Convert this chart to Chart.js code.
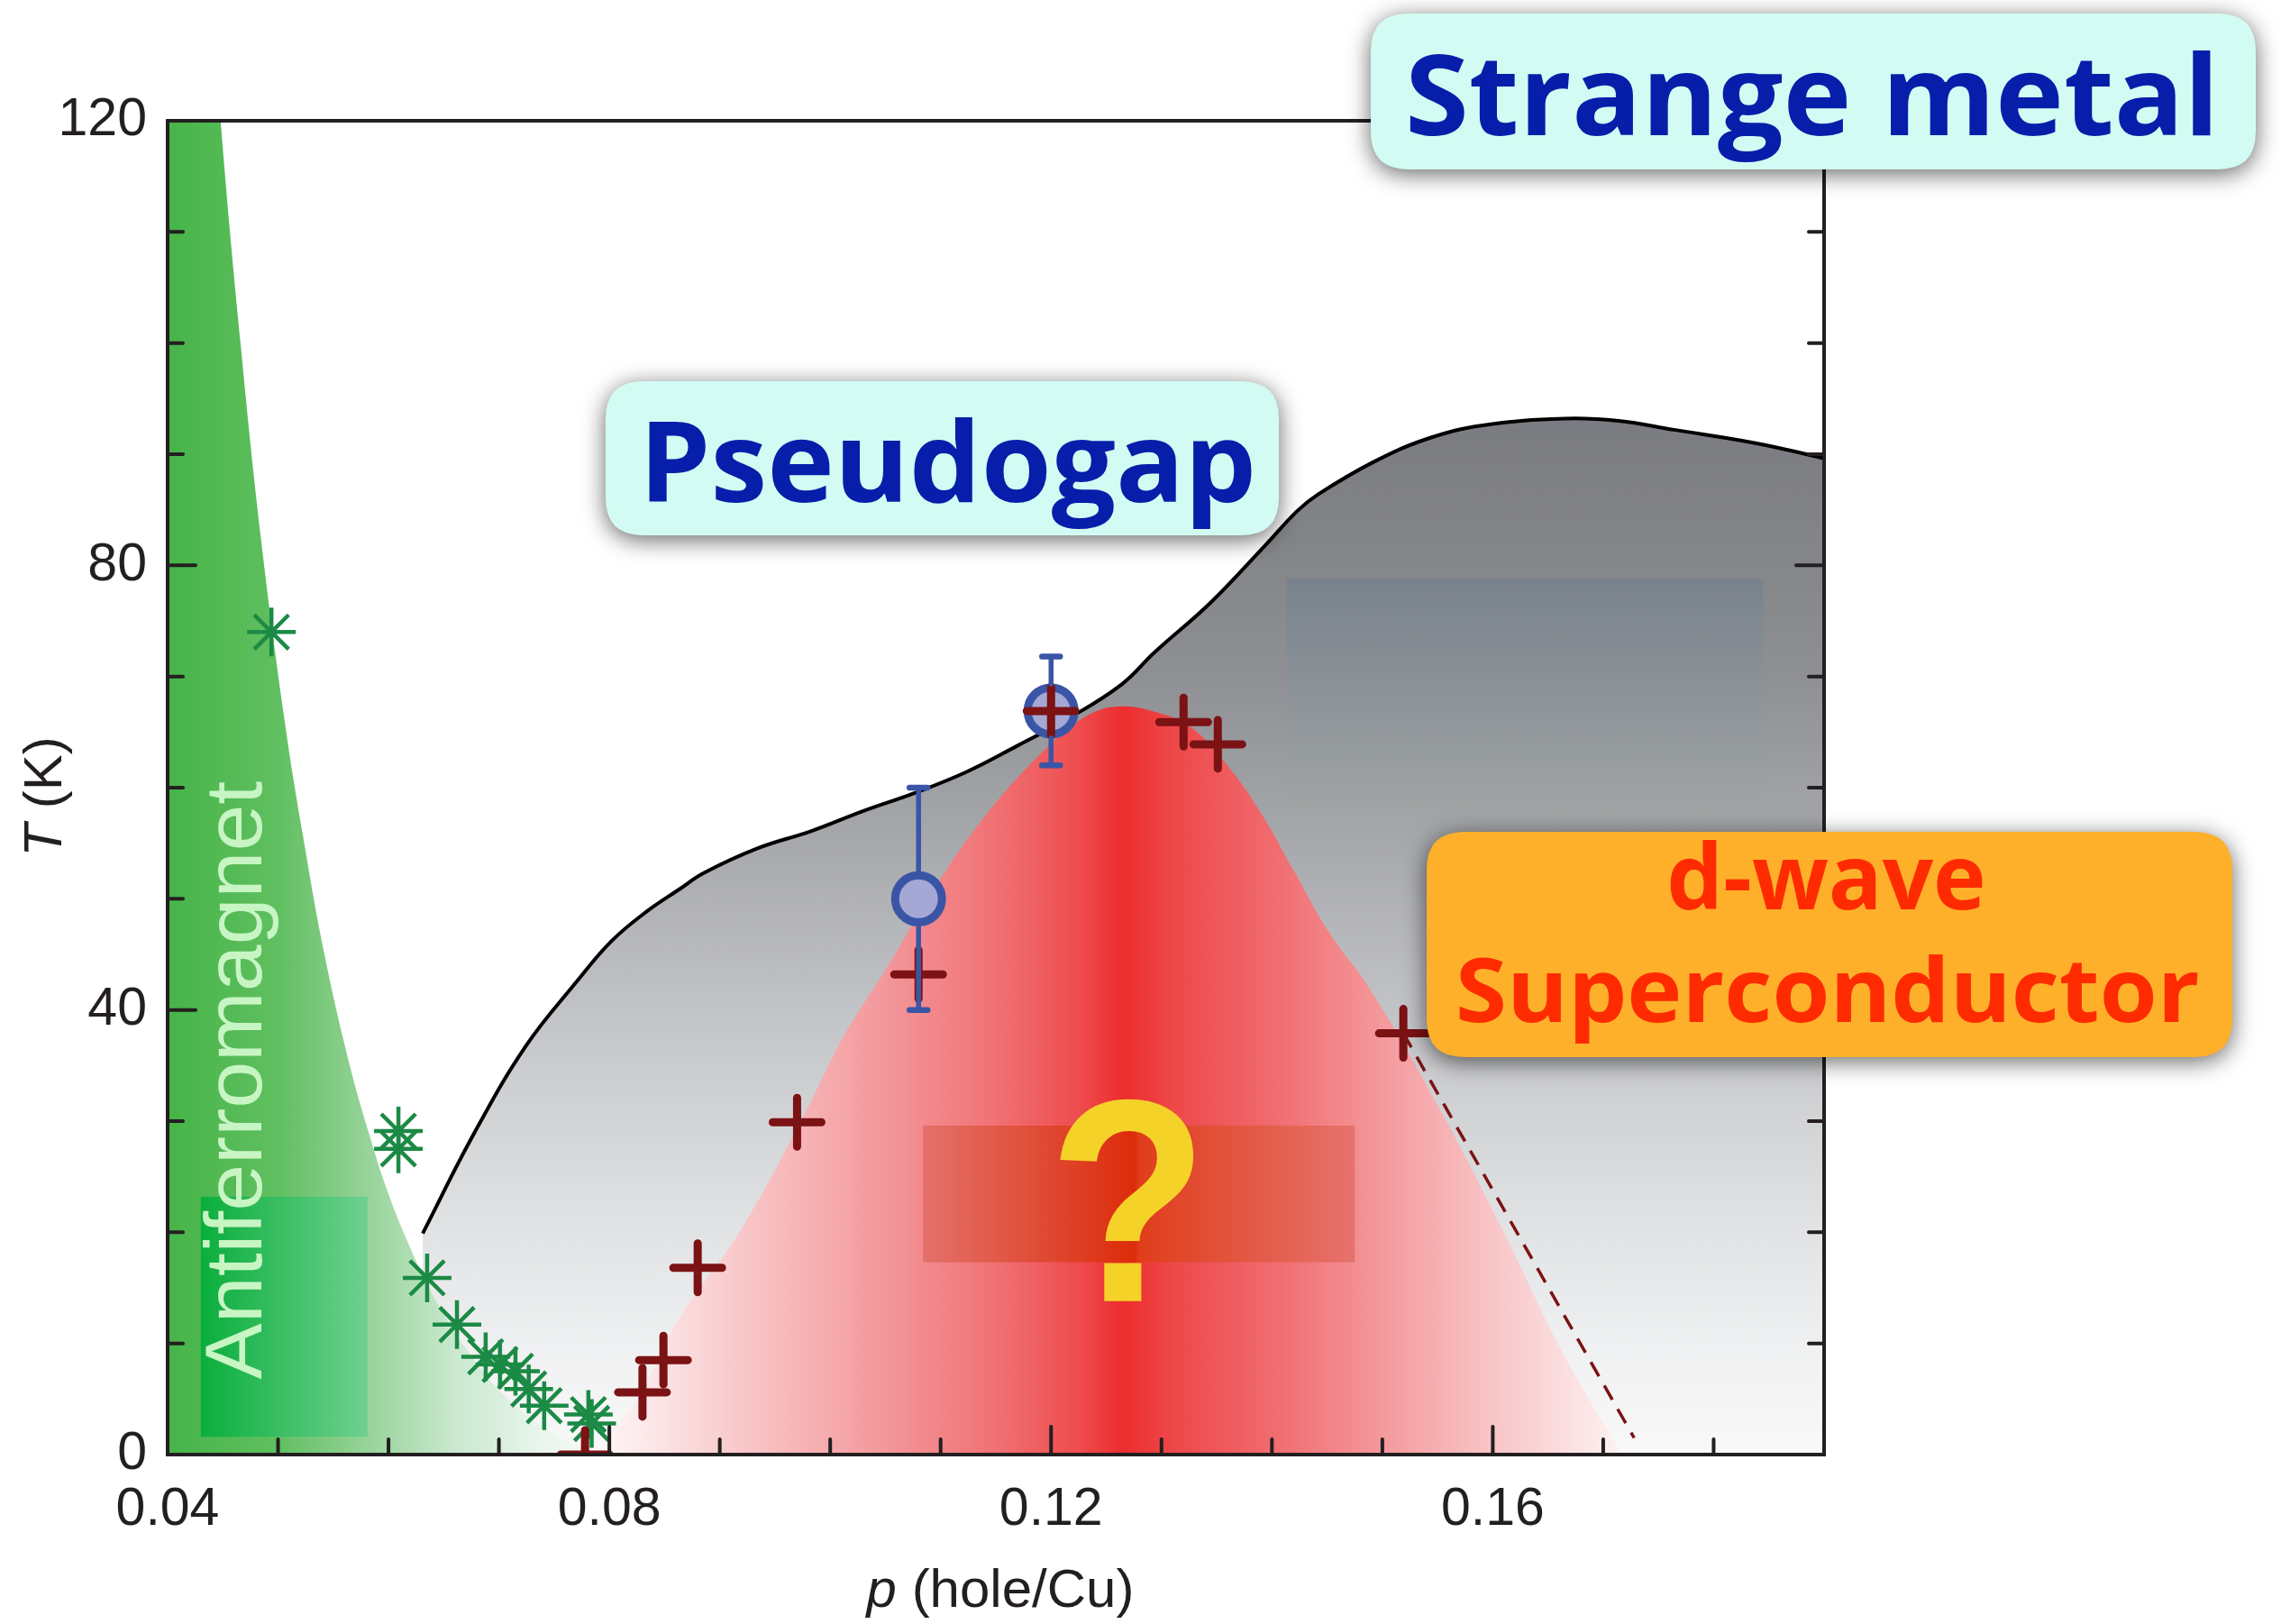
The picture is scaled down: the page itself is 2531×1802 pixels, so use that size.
<!DOCTYPE html>
<html>
<head>
<meta charset="utf-8">
<title>Cuprate phase diagram</title>
<script src="https://cdn.jsdelivr.net/npm/chart.js@4.4.1/dist/chart.umd.min.js"></script>
<style>
html,body{margin:0;padding:0;background:#ffffff;overflow:hidden;}
#chart{display:block;}
</style>
</head>
<body>
<canvas id="chart" width="2531" height="1802"></canvas>
<script>
// ================= DATA =================
const xTickValues = [0.04, 0.08, 0.12, 0.16];
const xTickLabels = ['0.04', '0.08', '0.12', '0.16'];
const yTickValues = [0, 40, 80, 120];
const yTickLabels = ['0', '40', '80', '120'];
const xAxisTitle = ['p', ' (hole/Cu)'];
const yAxisTitle = ['T', ' (K)'];

// Neel temperature (green asterisks)
const neelP = [0.0494, 0.0609, 0.0609, 0.0635, 0.0662, 0.0688, 0.0701, 0.0715, 0.0727, 0.0741, 0.0781, 0.0784];
const neelT = [74.0, 29.1, 27.5, 15.9, 11.7, 8.8, 8.1, 7.5, 5.9, 4.4, 3.6, 2.8];

// Superconducting Tc (dark red crosses)
const tcP = [0.0778, 0.0830, 0.0849, 0.0880, 0.0970, 0.1080, 0.1200, 0.1320, 0.1351, 0.1519];
const tcT = [0.0, 5.6, 8.5, 16.8, 29.9, 43.2, 66.9, 65.9, 63.9, 37.9];

// Pseudogap temperature points (blue circles) and their error
const pgP = [0.1080, 0.1200];
const pgT = [50.0, 66.9];
const pgErr = [10.0, 4.9];

// Pseudogap boundary curve (black line, gray region below)
const pseudoP = [0.0631, 0.0677, 0.0724, 0.0770, 0.0802, 0.0833, 0.0864, 0.0885, 0.0933, 0.0983, 0.1030, 0.1076, 0.1123, 0.1170, 0.1217, 0.1264, 0.1294, 0.1344, 0.1393, 0.1423, 0.1442, 0.1492, 0.1541, 0.1591, 0.1665, 0.1714, 0.1764, 0.1838, 0.1897, 0.1905];
const pseudoT = [19.9, 28.8, 36.7, 42.5, 46.2, 48.8, 50.9, 52.3, 54.5, 56.1, 57.9, 59.5, 61.4, 63.8, 66.3, 69.3, 72.2, 76.6, 81.7, 84.9, 86.4, 89.3, 91.4, 92.6, 93.2, 93.0, 92.2, 91.0, 89.7, 89.5];

// Antiferromagnet boundary (green region to its left)
const afmP = [0.0397, 0.0426, 0.0448, 0.0466, 0.0485, 0.0506, 0.0522, 0.0542, 0.0565, 0.0582, 0.0598, 0.0618, 0.0642, 0.0674, 0.0708, 0.0748, 0.0790];
const afmT = [200, 150, 120, 100, 82, 66, 56, 45, 35, 29, 24, 19, 14, 9, 5, 2, 0];

// Superconducting dome (red region)
const domeP = [0.0775, 0.0819, 0.0862, 0.0919, 0.0978, 0.1012, 0.1055, 0.1087, 0.1139, 0.1198, 0.1233, 0.1261, 0.1295, 0.1326, 0.1358, 0.1389, 0.1420, 0.1451, 0.1490, 0.1553, 0.1609, 0.1662, 0.1717];
const domeT = [0, 4.0, 12.1, 20.2, 30.9, 37.6, 44.4, 49.8, 57.3, 63.8, 66.5, 67.3, 66.8, 65.5, 62.2, 57.9, 52.5, 47.1, 41.7, 30.9, 20.2, 9.4, 0];

// Extrapolated Tc (dashed line)
const dashP = [0.1519, 0.1728];
const dashT = [37.9, 1.5];

// Region labels
const labelStrange = 'Strange metal';
const labelPseudogap = 'Pseudogap';
const labelDwave = 'd-wave';
const labelSC = 'Superconductor';
const labelAFM = 'Antiferromagnet';
const labelUnknown = '?';

// ================= Layout / decoration (in data units) =================
const deco = {
  darkRect:  {p0: 0.1413, p1: 0.1845, t0: 78.8, t1: 57.2},
  greenRect: {p0: 0.0430, p1: 0.0581, t0: 23.2, t1: 1.6},
  redRect:   {p0: 0.1084, p1: 0.1475, t0: 29.6, t1: 17.3},
  qmark:     {p0: 0.12048, p1: 0.13310, tTop: 32.1, tBase: 13.8},
  afmText:   {pCap: 0.04312, pBase: 0.04846, tStart: 6.78, tEnd: 60.58},
  boxStrange:{p0: 0.14895, p1: 0.22909, t0: 129.65, t1: 115.62,
              text: {p0: 0.15246, p1: 0.22501, tTop: 126.32, tBase: 118.70}},
  boxPseudo: {p0: 0.07966, p1: 0.14063, t0: 96.57, t1: 82.70,
              text: {p0: 0.08358, p1: 0.13818, tTop: 93.24, tBase: 85.70}},
  boxSC:     {p0: 0.15401, p1: 0.22697, t0: 56.03, t1: 35.76,
              text1: {p0: 0.17605, p1: 0.20436, tTop: 55.22, tBase: 49.05},
              text2: {p0: 0.15695, p1: 0.22387, tTop: 45.00, tBase: 38.92}}
};

const toXY = (P, T) => P.map((p, i) => ({x: p, y: T[i]}));

// ================= helpers =================
function gradX(chart, stops) {
  const xs = chart.scales.x, ctx = chart.ctx;
  const x0 = xs.getPixelForValue(stops[0][0]);
  const x1 = xs.getPixelForValue(stops[stops.length - 1][0]);
  const g = ctx.createLinearGradient(x0, 0, x1, 0);
  stops.forEach(([p, c]) => g.addColorStop(Math.min(1, Math.max(0, (xs.getPixelForValue(p) - x0) / (x1 - x0))), c));
  return g;
}
function gradY(chart, stops) {
  const ys = chart.scales.y, ctx = chart.ctx;
  const y0 = ys.getPixelForValue(stops[0][0]);
  const y1 = ys.getPixelForValue(stops[stops.length - 1][0]);
  const g = ctx.createLinearGradient(0, y0, 0, y1);
  stops.forEach(([t, c]) => g.addColorStop(Math.min(1, Math.max(0, (ys.getPixelForValue(t) - y0) / (y1 - y0))), c));
  return g;
}
function rrPath(ctx, x, y, w, h, r) {
  ctx.beginPath();
  ctx.moveTo(x + r, y);
  ctx.lineTo(x + w - r, y);
  ctx.quadraticCurveTo(x + w, y, x + w, y + r);
  ctx.lineTo(x + w, y + h - r);
  ctx.quadraticCurveTo(x + w, y + h, x + w - r, y + h);
  ctx.lineTo(x + r, y + h);
  ctx.quadraticCurveTo(x, y + h, x, y + h - r);
  ctx.lineTo(x, y + r);
  ctx.quadraticCurveTo(x, y, x + r, y);
  ctx.closePath();
}
function fitText(ctx, text, font, x0, x1, yTop, yBase, color) {
  ctx.save();
  ctx.font = font; ctx.textAlign = 'left'; ctx.textBaseline = 'alphabetic';
  const m = ctx.measureText(text);
  const w = m.actualBoundingBoxLeft + m.actualBoundingBoxRight;
  const h = m.actualBoundingBoxAscent;
  ctx.translate(x0, yBase);
  ctx.scale((x1 - x0) / w, (yBase - yTop) / h);
  ctx.fillStyle = color;
  ctx.fillText(text, m.actualBoundingBoxLeft, 0);
  ctx.restore();
}

const grayStops = [[93, '#7b7c81'], [80, '#84868a'], [70, '#8e9094'], [57, '#a3a5a9'], [44, '#bbbcc0'], [36, '#c9cacd'], [31, '#d1d2d4'], [20, '#e2e3e5'], [9, '#f0f1f2'], [0, '#f9f9f9']];
const greenStops = [[0.040, 'rgb(70,180,72)'], [0.050, 'rgb(96,191,96)'], [0.058, 'rgb(150,211,152)'], [0.066, 'rgb(202,232,207)'], [0.074, 'rgb(234,245,237)'], [0.080, 'rgb(250,252,250)']];
const domeStops = [[0.0765, '#ffffff'], [0.085, '#fbe2e3'], [0.095, '#f7bcbe'], [0.105, '#f3979b'], [0.115, '#f07173'], [0.1225, '#ee4c4e'], [0.1265, '#ec2d2d'], [0.131, '#ee4749'], [0.140, '#f06b6e'], [0.150, '#f4999c'], [0.160, '#f8c5c7'], [0.1725, '#fef5f5']];

// ================= plugin for decorations, frame and labels =================
const decorPlugin = {
  id: 'decor',
  beforeDatasetDraw(chart, args) {
    const ds = chart.data.datasets[args.index];
    if (ds.roundCap) { chart.ctx.save(); chart.ctx.lineCap = 'round'; }
  },
  afterDatasetDraw(chart, args) {
    const ds = chart.data.datasets[args.index];
    const ctx = chart.ctx;
    if (ds.roundCap) ctx.restore();
    const X = v => chart.scales.x.getPixelForValue(v);
    const Y = v => chart.scales.y.getPixelForValue(v);
    if (ds.key === 'pgFill') {
      const r = deco.darkRect;
      ctx.save();
      const g = ctx.createLinearGradient(0, Y(r.t0), 0, Y(r.t1));
      g.addColorStop(0, '#79828c'); g.addColorStop(1, '#a1a5a5');
      ctx.fillStyle = g;
      ctx.fillRect(X(r.p0), Y(r.t0), X(r.p1) - X(r.p0), Y(r.t1) - Y(r.t0));
      ctx.restore();
    }
    if (ds.key === 'afmFill') {
      const r = deco.greenRect;
      ctx.save();
      const g = ctx.createLinearGradient(X(r.p0), 0, X(r.p1), 0);
      g.addColorStop(0, '#0aae3c'); g.addColorStop(1, '#6fd08f');
      ctx.fillStyle = g;
      ctx.fillRect(X(r.p0), Y(r.t0), X(r.p1) - X(r.p0), Y(r.t1) - Y(r.t0));
      ctx.restore();
    }
    if (ds.key === 'dome') {
      const r = deco.redRect;
      ctx.save();
      const g = ctx.createLinearGradient(X(r.p0), 0, X(r.p1), 0);
      g.addColorStop(0, '#e4716a'); g.addColorStop(0.49, '#dc2c0a'); g.addColorStop(0.5, '#e03d1a'); g.addColorStop(1, '#e6736d');
      ctx.fillStyle = g;
      ctx.fillRect(X(r.p0), Y(r.t0), X(r.p1) - X(r.p0), Y(r.t1) - Y(r.t0));
      ctx.restore();
      const q = deco.qmark;
      fitText(ctx, labelUnknown, 'bold 300px "Liberation Sans"', X(q.p0), X(q.p1), Y(q.tTop), Y(q.tBase), '#f5d228');
    }
  },
  afterDatasetsDraw(chart) {
    const ctx = chart.ctx, xs = chart.scales.x, ys = chart.scales.y, a = chart.chartArea;
    // error bars
    ctx.save();
    ctx.strokeStyle = '#3a55a6'; ctx.lineCap = 'round';
    pgP.forEach((p, i) => {
      const x = xs.getPixelForValue(p), yc = ys.getPixelForValue(pgT[i]);
      const yt = ys.getPixelForValue(pgT[i] + pgErr[i]), yb = ys.getPixelForValue(pgT[i] - pgErr[i]);
      const r = 30;
      ctx.lineWidth = 5.5;
      ctx.beginPath(); ctx.moveTo(x, yc - r); ctx.lineTo(x, yt); ctx.moveTo(x, yc + r); ctx.lineTo(x, yb); ctx.stroke();
      ctx.lineWidth = 6.5;
      ctx.beginPath(); ctx.moveTo(x - 10, yt); ctx.lineTo(x + 10, yt); ctx.moveTo(x - 10, yb); ctx.lineTo(x + 10, yb); ctx.stroke();
    });
    ctx.restore();
    // frame
    ctx.save();
    ctx.strokeStyle = '#231f20'; ctx.lineWidth = 4; ctx.lineCap = 'square';
    ctx.strokeRect(a.left, a.top, a.right - a.left, a.bottom - a.top);
    ctx.lineCap = 'round';
    ctx.beginPath();
    xs.ticks.forEach(t => {
      const px = xs.getPixelForValue(t.value);
      const major = xTickValues.some(v => Math.abs(v - t.value) < 1e-6);
      const len = major ? 31 : 17;
      if (px > a.left + 2 && px < a.right - 2) { ctx.moveTo(px, a.bottom); ctx.lineTo(px, a.bottom - len); }
    });
    ys.ticks.forEach(t => {
      const py = ys.getPixelForValue(t.value);
      const major = yTickValues.some(v => Math.abs(v - t.value) < 1e-6);
      const len = major ? 31 : 17;
      if (py > a.top + 2 && py < a.bottom - 2) {
        ctx.moveTo(a.left, py); ctx.lineTo(a.left + len, py);
        ctx.moveTo(a.right, py); ctx.lineTo(a.right - len, py);
      }
    });
    ctx.stroke();
    ctx.restore();
  },
  afterDraw(chart) {
    const ctx = chart.ctx, a = chart.chartArea;
    const X = v => chart.scales.x.getPixelForValue(v);
    const Y = v => chart.scales.y.getPixelForValue(v);
    // Antiferromagnet vertical label
    const f = deco.afmText;
    ctx.save();
    ctx.font = '90px "Liberation Sans"'; ctx.textBaseline = 'alphabetic'; ctx.textAlign = 'left';
    const m = ctx.measureText(labelAFM);
    const L = Y(f.tStart) - Y(f.tEnd), H = X(f.pBase) - X(f.pCap);
    ctx.translate(X(f.pBase), Y(f.tStart));
    ctx.rotate(-Math.PI / 2);
    ctx.scale(L / (m.actualBoundingBoxLeft + m.actualBoundingBoxRight), H / m.actualBoundingBoxAscent);
    ctx.fillStyle = '#c8f5c4';
    ctx.fillText(labelAFM, m.actualBoundingBoxLeft, 0);
    ctx.restore();

    // label boxes
    const drawBox = (b, fill) => {
      ctx.save();
      ctx.shadowColor = 'rgba(0,0,0,0.6)'; ctx.shadowBlur = 26; ctx.shadowOffsetY = 5;
      ctx.fillStyle = fill;
      rrPath(ctx, X(b.p0), Y(b.t0), X(b.p1) - X(b.p0), Y(b.t1) - Y(b.t0), 42);
      ctx.fill();
      ctx.restore();
    };
    const boxFont = 'bold 130px "Open Sans"';
    let b = deco.boxPseudo;
    drawBox(b, '#d2fcf3');
    fitText(ctx, labelPseudogap, boxFont, X(b.text.p0), X(b.text.p1), Y(b.text.tTop), Y(b.text.tBase), '#061ea9');
    b = deco.boxStrange;
    drawBox(b, '#d2fcf3');
    fitText(ctx, labelStrange, boxFont, X(b.text.p0), X(b.text.p1), Y(b.text.tTop), Y(b.text.tBase), '#061ea9');
    b = deco.boxSC;
    drawBox(b, '#ffb02a');
    fitText(ctx, labelDwave, boxFont, X(b.text1.p0), X(b.text1.p1), Y(b.text1.tTop), Y(b.text1.tBase), '#ff2b00');
    fitText(ctx, labelSC, boxFont, X(b.text2.p0), X(b.text2.p1), Y(b.text2.tTop), Y(b.text2.tBase), '#ff2b00');

    // axis titles
    ctx.save();
    ctx.fillStyle = '#231f20'; ctx.textBaseline = 'alphabetic'; ctx.textAlign = 'left';
    const fi = 'italic 60px "Liberation Sans"', fn = '60px "Liberation Sans"';
    ctx.font = fi; const w1 = ctx.measureText(xAxisTitle[0]).width;
    ctx.font = fn; const w2 = ctx.measureText(xAxisTitle[1]).width;
    const cx = (a.left + a.right) / 2 + 5, by = a.bottom + 169;
    ctx.font = fi; ctx.fillText(xAxisTitle[0], cx - (w1 + w2) / 2, by);
    ctx.font = fn; ctx.fillText(xAxisTitle[1], cx - (w1 + w2) / 2 + w1, by);
    ctx.restore();

    ctx.save();
    ctx.fillStyle = '#231f20'; ctx.textBaseline = 'middle'; ctx.textAlign = 'left';
    ctx.font = fi; const v1 = ctx.measureText(yAxisTitle[0]).width;
    ctx.font = fn; const v2 = ctx.measureText(yAxisTitle[1]).width;
    ctx.translate(a.left - 135, (a.top + a.bottom) / 2 + 10);
    ctx.rotate(-Math.PI / 2);
    ctx.font = fi; ctx.fillText(yAxisTitle[0], -(v1 + v2) / 2, 0);
    ctx.font = fn; ctx.fillText(yAxisTitle[1], -(v1 + v2) / 2 + v1, 0);
    ctx.restore();
  }
};

// ================= chart =================
Chart.defaults.font.family = '"Liberation Sans", Arial, sans-serif';
const ctxEl = document.getElementById('chart');
new Chart(ctxEl, {
  type: 'scatter',
  data: {
    datasets: [
      { key: 'crosses', label: 'Tc', data: toXY(tcP, tcT), order: 1, roundCap: true, clip: 0,
        pointStyle: 'cross', pointRadius: 27, pointBorderWidth: 9, pointBorderColor: '#7b1214', pointBackgroundColor: '#7b1214', showLine: false },
      { key: 'circles', label: 'T*', data: toXY(pgP, pgT), order: 2, clip: 0,
        pointStyle: 'circle', pointRadius: 26, pointBorderWidth: 9, pointBorderColor: '#3a55a6', pointBackgroundColor: '#a5a7d4', showLine: false },
      { key: 'stars', label: 'TN', data: toXY(neelP, neelT), order: 3, clip: 0,
        pointStyle: 'star', pointRadius: 27, pointBorderWidth: 4.5, pointBorderColor: '#1b8a45', pointBackgroundColor: 'rgba(0,0,0,0)', showLine: false },
      { key: 'dash', type: 'line', label: 'Tc extrapolated', data: toXY(dashP, dashT), order: 4, clip: 0,
        borderColor: '#7b1214', borderWidth: 3.5, borderDash: [18, 12], pointRadius: 0, fill: false, tension: 0 },
      { key: 'pgLine', type: 'line', label: 'T* line', data: toXY(pseudoP, pseudoT), order: 5, clip: 0,
        borderColor: '#000000', borderWidth: 4, pointRadius: 0, fill: false, tension: 0.4 },
      { key: 'dome', type: 'line', label: 'SC dome', data: toXY(domeP, domeT), order: 6, clip: 0,
        borderColor: 'rgba(0,0,0,0)', borderWidth: 0, pointRadius: 0, fill: 'origin', tension: 0.4,
        backgroundColor: c => c.chart.chartArea ? gradX(c.chart, domeStops) : 'rgba(0,0,0,0)' },
      { key: 'afmFill', type: 'line', label: 'AFM', data: toXY(afmP, afmT), order: 7, clip: 0,
        borderColor: 'rgba(0,0,0,0)', borderWidth: 0, pointRadius: 0, fill: 'origin', tension: 0.4,
        backgroundColor: c => c.chart.chartArea ? gradX(c.chart, greenStops) : 'rgba(0,0,0,0)' },
      { key: 'pgFill', type: 'line', label: 'Pseudogap region', data: toXY(pseudoP, pseudoT), order: 8, clip: 0,
        borderColor: 'rgba(0,0,0,0)', borderWidth: 0, pointRadius: 0, fill: 'origin', tension: 0.4,
        backgroundColor: c => c.chart.chartArea ? gradY(c.chart, grayStops) : 'rgba(0,0,0,0)' }
    ]
  },
  options: {
    responsive: false,
    devicePixelRatio: 1,
    animation: false,
    events: [],
    layout: { padding: { left: 0, top: 134, right: 507, bottom: 0 } },
    plugins: { legend: { display: false }, tooltip: { enabled: false }, title: { display: false } },
    scales: {
      x: {
        type: 'linear', min: 0.04, max: 0.19,
        grid: { display: false, drawTicks: false }, border: { display: false },
        ticks: {
          stepSize: 0.01, autoSkip: false, maxRotation: 0, padding: 26, color: '#231f20',
          font: { size: 59, family: '"Liberation Sans"' },
          callback: v => { const i = xTickValues.findIndex(t => Math.abs(t - v) < 1e-6); return i >= 0 ? xTickLabels[i] : ''; }
        },
        afterFit: s => { s.height = 188; }
      },
      y: {
        type: 'linear', min: 0, max: 120,
        grid: { display: false, drawTicks: false }, border: { display: false },
        ticks: {
          stepSize: 10, autoSkip: false, padding: 23, color: '#231f20',
          font: { size: 59, family: '"Liberation Sans"' },
          callback: v => { const i = yTickValues.findIndex(t => Math.abs(t - v) < 1e-6); return i >= 0 ? yTickLabels[i] : ''; }
        },
        afterFit: s => { s.width = 186; }
      }
    }
  },
  plugins: [decorPlugin]
});
</script>
</body>
</html>
